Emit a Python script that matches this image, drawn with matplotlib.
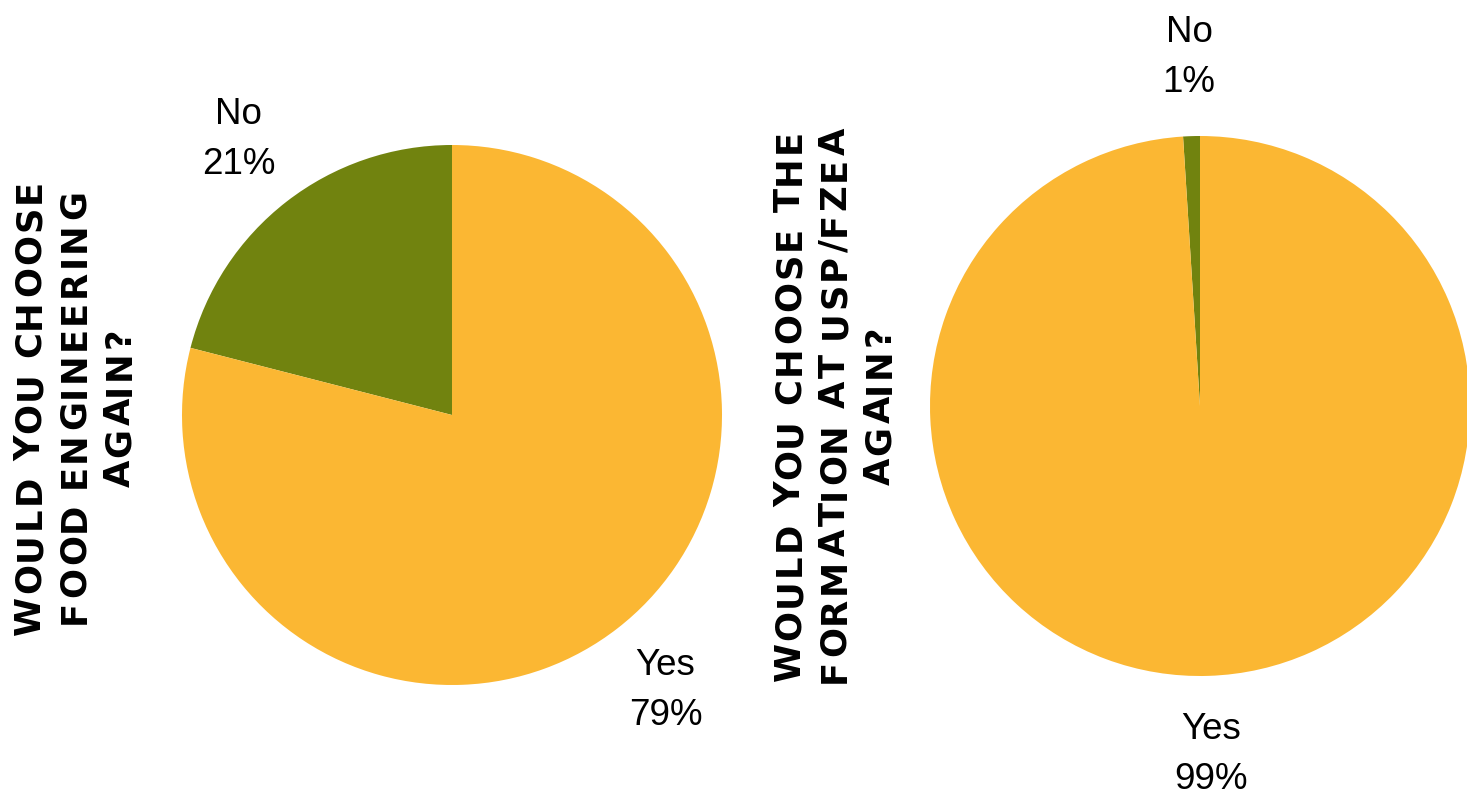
import matplotlib
matplotlib.use("Agg")
import matplotlib.pyplot as plt
from matplotlib.font_manager import FontProperties

# ---- data ----
categories = ["No", "Yes"]
values_food = [21, 79]
values_usp = [1, 99]
title_food = ["WOULD YOU CHOOSE", "FOOD ENGINEERING", "AGAIN?"]
title_usp = ["WOULD YOU CHOOSE THE", "FORMATION AT USP/FZEA", "AGAIN?"]

colors = ["#71830F", "#FBB733"]

W, H = 1467, 794
fig = plt.figure(figsize=(W / 100, H / 100), dpi=100)
fig.patch.set_facecolor("white")


def px_axes(cx, cy, r):
    # cy measured from top in pixels
    return fig.add_axes([(cx - r) / W, (H - cy - r) / H, 2 * r / W, 2 * r / H])


def draw_pie(ax, vals):
    labels = [f"{c}\n{v}%" for c, v in zip(categories, vals)]
    wedges, texts = ax.pie(vals, labels=labels, colors=colors, startangle=90,
                           counterclock=True, labeldistance=1.29,
                           wedgeprops=dict(linewidth=0),
                           textprops=dict(fontsize=26.5, family="Liberation Sans",
                                          color="black", linespacing=1.55))
    for t in texts:
        t.set_ha("center")
        t.set_va("center")
        t.set_clip_on(False)
    for w in wedges:
        w.set_clip_on(False)
    ax.set_xlim(-1, 1)
    ax.set_ylim(-1, 1)
    ax.set_aspect("equal")
    ax.axis("off")


ax1 = px_axes(452, 415, 270)
draw_pie(ax1, values_food)
ax2 = px_axes(1200, 406, 270)
draw_pie(ax2, values_usp)

# ---- letter-spaced vertical titles ----
fp = FontProperties(family="DejaVu Sans", weight="bold", size=25.5)
renderer = fig.canvas.get_renderer()
tracking = 2.5  # px


def spaced_vertical(lines, xs, cy):
    for line, x in zip(lines, xs):
        widths = []
        for ch in line:
            w, h, d = renderer.get_text_width_height_descent(ch, fp, ismath=False)
            if ch == " ":
                w = 0.75 * (renderer.get_text_width_height_descent("a a", fp, ismath=False)[0] -
                            renderer.get_text_width_height_descent("aa", fp, ismath=False)[0])
            widths.append(w)
        total = sum(widths) + tracking * (len(line) - 1)
        y = cy + total / 2.0  # start at bottom (pixels from top)
        for ch, w in zip(line, widths):
            yc = y - w / 2.0
            if ch != " ":
                fig.text(x / W, (H - yc) / H, ch, fontproperties=fp, rotation=90,
                         ha="center", va="center", color="black")
            y -= w + tracking


spaced_vertical(title_food, [30, 75, 120], 407)
spaced_vertical(title_usp, [790, 835, 880], 405)

fig.savefig("out.png", dpi=100, facecolor="white")
